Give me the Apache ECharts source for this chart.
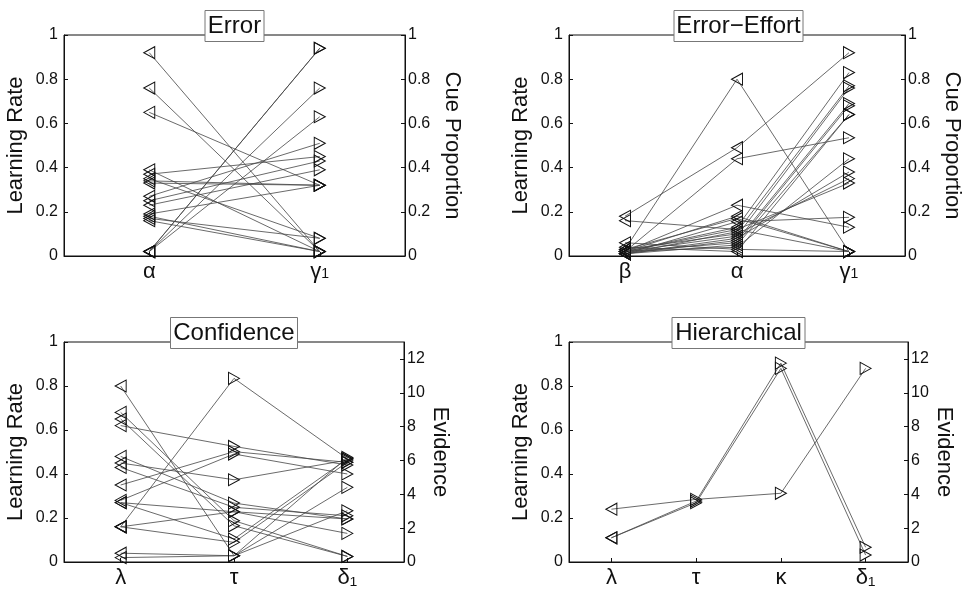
<!DOCTYPE html>
<html>
<head>
<meta charset="utf-8">
<script src="https://cdn.jsdelivr.net/npm/echarts@6/dist/echarts.min.js"></script>
<style>
  html, body { margin: 0; padding: 0; background: #fff; }
  #chart { width: 964px; height: 593px; }
</style>
</head>
<body>
<div id="chart"></div>
<script>
var FONT = "'Liberation Sans', Arial, sans-serif";
var EVID_MAX = 13;

// Error model, one entry per participant
var errAlpha = [0.92, 0.76, 0.65, 0.02, 0.02, 0.02, 0.02, 0.39, 0.37, 0.35, 0.34, 0.33, 0.27, 0.25, 0.23, 0.19, 0.18, 0.17, 0.16];
var errGamma = [0.02, 0.02, 0.32, 0.94, 0.94, 0.76, 0.63, 0.02, 0.45, 0.08, 0.32, 0.32, 0.51, 0.43, 0.39, 0.32, 0.02, 0.08, 0.02];

// Error-Effort model
var effBeta  = [0.03, 0.18, 0.02, 0.16, 0.02, 0.02, 0.03, 0.01, 0.02, 0.01, 0.02, 0.01, 0.02, 0.01, 0.02, 0.01, 0.03, 0.02, 0.06, 0.04];
var effAlpha = [0.80, 0.49, 0.44, 0.12, 0.23, 0.18, 0.17, 0.155, 0.13, 0.11, 0.09, 0.07, 0.06, 0.05, 0.04, 0.08, 0.10, 0.12, 0.03, 0.02];
var effGamma = [0.02, 0.92, 0.535, 0.02, 0.13, 0.02, 0.02, 0.175, 0.83, 0.77, 0.76, 0.69, 0.68, 0.64, 0.44, 0.38, 0.35, 0.33, 0.02, 0.64];

// Confidence model: lambda is a learning rate, tau and delta are evidence
var confLambda = [0.80, 0.68, 0.65, 0.62, 0.48, 0.45, 0.43, 0.35, 0.28, 0.27, 0.27, 0.16, 0.16, 0.16, 0.04, 0.02];
var confTau    = [0.37, 2.44, 2.14, 6.83, 3.48, 4.86, 3.23, 6.52, 6.38, 2.97, 1.36, 10.85, 2.97, 1.16, 0.37, 0.37];
var confDelta  = [6.18, 0.33, 0.33, 5.73, 2.54, 6.02, 2.73, 5.89, 5.2, 1.69, 6.1, 6.1, 2.54, 5.9, 3.03, 4.41];

// Hierarchical model
var hierLambda = [0.24, 0.11, 0.11];
var hierTau    = [3.7, 3.6, 3.5];
var hierKappa  = [4.06, 11.75, 11.44];
var hierDelta  = [11.44, 0.87, 0.41];

var panels = [
  { title: 'Error', cats: ['α', '{g|γ}{n|1}'], cols: [errAlpha, errGamma], right: [false, true],
    rightName: 'Cue Proportion', rightMax: 1, grid: { left: 64, top: 35, width: 341, height: 221 }, gapR: 36 },
  { title: 'Error\u2212Effort', cats: ['β', 'α', '{g|γ}{n|1}'], cols: [effBeta, effAlpha, effGamma], right: [false, false, true],
    rightName: 'Cue Proportion', rightMax: 1, grid: { left: 569, top: 35, width: 339, height: 221 }, gapR: 36 },
  { title: 'Confidence', cats: ['λ', 'τ', 'δ\u2081'], cols: [confLambda, confTau, confDelta], right: [false, true, true],
    rightName: 'Evidence', rightMax: EVID_MAX, grid: { left: 64, top: 342, width: 340, height: 220 }, gapR: 25 },
  { title: 'Hierarchical', cats: ['λ', 'τ', 'κ', 'δ\u2081'], cols: [hierLambda, hierTau, hierKappa, hierDelta], right: [false, true, true, true],
    rightName: 'Evidence', rightMax: EVID_MAX, grid: { left: 569, top: 342, width: 339, height: 220 }, gapR: 25 }
];

var axisColor = '#111';
var grids = [], xAxes = [], yAxes = [], titles = [], series = [];

panels.forEach(function (p, g) {
  grids.push({ left: p.grid.left, top: p.grid.top, width: p.grid.width, height: p.grid.height,
    show: true, borderColor: axisColor, borderWidth: 1 });

  titles.push({
    text: p.title,
    left: p.grid.left + p.grid.width / 2 - 3,
    top: p.grid.top - 25,
    textAlign: 'center',
    padding: [4, 3, 4, 3],
    borderColor: '#777', borderWidth: 1, backgroundColor: '#fff',
    textStyle: { fontSize: 24, fontWeight: 'normal', color: '#111', fontFamily: FONT }
  });

  xAxes.push({
    type: 'category', gridIndex: g, data: p.cats, boundaryGap: true,
    axisLine: { show: true, lineStyle: { color: axisColor } },
    axisTick: { show: true, inside: true, alignWithLabel: true, length: 4, lineStyle: { color: axisColor } },
    axisLabel: { interval: 0, fontSize: 22, margin: 5, color: '#111', fontFamily: FONT,
      rich: {
        g: { fontSize: 22, color: '#111', fontFamily: FONT, verticalAlign: 'bottom' },
        n: { fontSize: 14, color: '#111', fontFamily: FONT, verticalAlign: 'bottom', padding: [0, 0, 2, 0] }
      } },
    splitLine: { show: false }
  });

  yAxes.push({
    type: 'value', gridIndex: g, position: 'left', min: 0, max: 1, interval: 0.2,
    name: 'Learning Rate', nameLocation: 'middle', nameRotate: 90, nameGap: 37,
    nameTextStyle: { fontSize: 22, color: '#111', fontFamily: FONT },
    axisLine: { show: true, lineStyle: { color: axisColor } },
    axisTick: { show: true, inside: true, length: 4, lineStyle: { color: axisColor } },
    axisLabel: { fontSize: 16, margin: 6, color: '#111', fontFamily: FONT },
    splitLine: { show: false }
  });

  yAxes.push({
    type: 'value', gridIndex: g, position: 'right', min: 0, max: p.rightMax,
    interval: p.rightMax === 1 ? 0.2 : 2,
    name: p.rightName, nameLocation: 'middle', nameRotate: -90, nameGap: p.gapR,
    nameTextStyle: { fontSize: 22, color: '#111', fontFamily: FONT },
    axisLine: { show: true, lineStyle: { color: axisColor } },
    axisTick: { show: true, inside: true, length: 4, lineStyle: { color: axisColor } },
    axisLabel: { fontSize: 16, margin: 3, color: '#111', fontFamily: FONT, showMaxLabel: p.rightMax === 1 },
    splitLine: { show: false }
  });

  // one line per participant; right-axis values are put on the left scale
  var n = p.cols[0].length;
  for (var s = 0; s < n; s++) {
    var data = p.cols.map(function (col, c) {
      var onRight = p.right[c];
      return {
        value: onRight ? col[s] / p.rightMax : col[s],
        symbolRotate: onRight ? -90 : 90
      };
    });
    series.push({
      type: 'line', xAxisIndex: g, yAxisIndex: 2 * g, data: data,
      symbol: 'triangle', symbolSize: [12, 11], showSymbol: true, showAllSymbol: true,
      lineStyle: { color: '#444', width: 0.8 },
      itemStyle: { color: 'rgba(0,0,0,0)', borderColor: '#111', borderWidth: 1 },
      emphasis: { disabled: true },
      silent: true
    });
  }
});

var chart = echarts.init(document.getElementById('chart'));
chart.setOption({
  backgroundColor: '#fff',
  animation: false,
  textStyle: { fontFamily: FONT },
  title: titles,
  grid: grids,
  xAxis: xAxes,
  yAxis: yAxes,
  series: series
});
</script>
</body>
</html>
